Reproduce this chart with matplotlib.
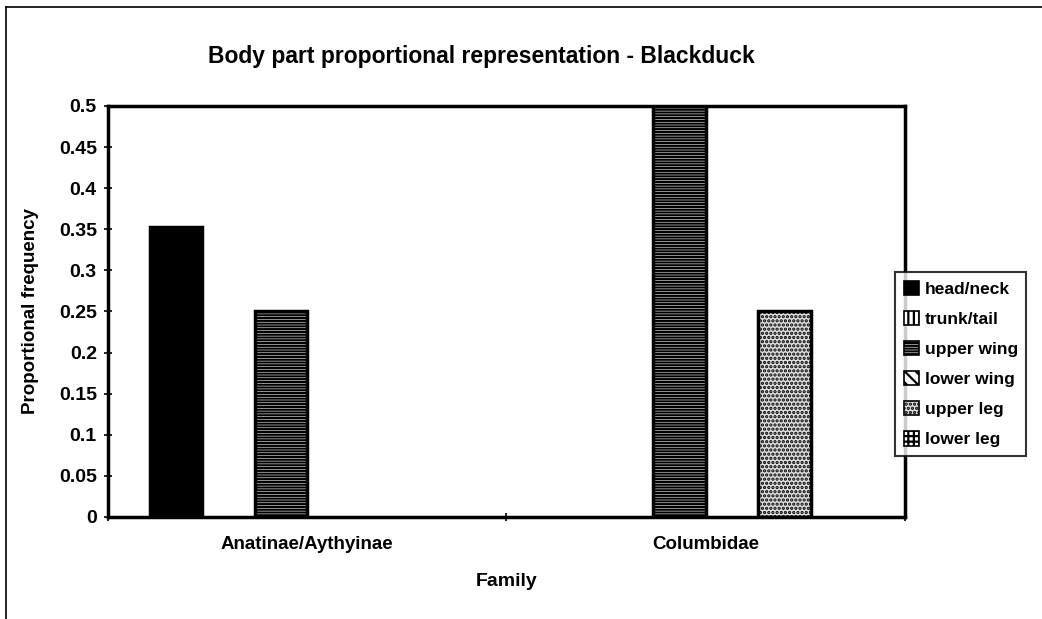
import matplotlib
matplotlib.use("Agg")
import matplotlib.pyplot as plt
from matplotlib.patches import Patch
import numpy as np

plt.rcParams['font.family'] = ['Liberation Sans', 'DejaVu Sans']
plt.rcParams['hatch.color'] = 'black'
plt.rcParams['hatch.linewidth'] = 1.6

categories = ['Anatinae/Aythyinae', 'Columbidae']
series = ['head/neck', 'trunk/tail', 'upper wing', 'lower wing', 'upper leg', 'lower leg']
head_neck = [0.353, 0.0]
trunk_tail = [0.0, 0.0]
upper_wing = [0.25, 0.5]
lower_wing = [0.0, 0.0]
upper_leg = [0.0, 0.25]
lower_leg = [0.0, 0.0]
values = [head_neck, trunk_tail, upper_wing, lower_wing, upper_leg, lower_leg]

# fill style per series, a rough match of the old Excel b/w patterns
faces = ['black', 'white', 'white', 'white', '#e0e0e0', 'white']
hatches = [None, '|||', '------', '\\\\\\', '....', '+++']

fig = plt.figure(figsize=(10.42, 6.19), dpi=100)
ax = fig.add_axes([0.1036, 0.1648, 0.7649, 0.664])

x = np.arange(len(categories))
w = 0.1317
for i, name in enumerate(series):
    vals = np.array(values[i])
    h = ax.bar(x + (i - 2.5) * w, vals, width=w, color=faces[i], hatch=hatches[i],
               edgecolor='black', linewidth=2.5, zorder=2)
    for p, v in zip(h.patches, vals):
        if v == 0:
            p.set_visible(False)

ax.set_xlim(-0.5, 1.5)
ax.set_ylim(0, 0.5)
ax.set_yticks(np.arange(0, 0.501, 0.05))
ax.set_yticklabels(['0', '0.05', '0.1', '0.15', '0.2', '0.25', '0.3', '0.35', '0.4', '0.45', '0.5'])
ax.set_xticks(x)
ax.set_xticklabels(categories)
ax.set_xticks([-0.5, 0.5, 1.5], minor=True)
ax.tick_params(axis='x', which='major', length=0, pad=14, labelsize=13.5)
ax.tick_params(axis='x', which='minor', length=6, width=1.2, direction='inout')
ax.tick_params(axis='y', length=6, width=1.2, direction='inout', labelsize=14, pad=5)
for lab in ax.get_xticklabels() + ax.get_yticklabels():
    lab.set_fontweight('bold')
for s in ax.spines.values():
    s.set_linewidth(2.5)

ax.set_ylabel('Proportional frequency', fontsize=13.5, fontweight='bold', labelpad=14)
ax.set_xlabel('Family', fontsize=14, fontweight='bold', labelpad=14)
fig.text(481 / 1042, 1 - 56 / 619, 'Body part proportional representation - Blackduck',
         ha='center', va='center', fontsize=16.5, fontweight='bold')

handles = [Patch(facecolor=faces[i], hatch=hatches[i], edgecolor='black', linewidth=1.2)
           for i in range(len(series))]
leg = fig.legend(handles=handles, labels=series, loc='upper left',
                 bbox_to_anchor=(895 / 1042, 1 - 272 / 619),
                 prop={'weight': 'bold', 'size': 12.5}, frameon=True, fancybox=False,
                 edgecolor='black', handlelength=0.9, handleheight=0.9,
                 handletextpad=0.3, labelspacing=0.8, borderpad=0.5, borderaxespad=0)
leg.get_frame().set_linewidth(1.5)

# outer chart border (left and top visible in the scan)
fig.add_artist(plt.Line2D([6 / 1042, 6 / 1042], [0, 1 - 7 / 619], color='black', lw=1.2))
fig.add_artist(plt.Line2D([6 / 1042, 1], [1 - 7 / 619, 1 - 7 / 619], color='black', lw=1.2))

fig.savefig('out.png', dpi=100)
